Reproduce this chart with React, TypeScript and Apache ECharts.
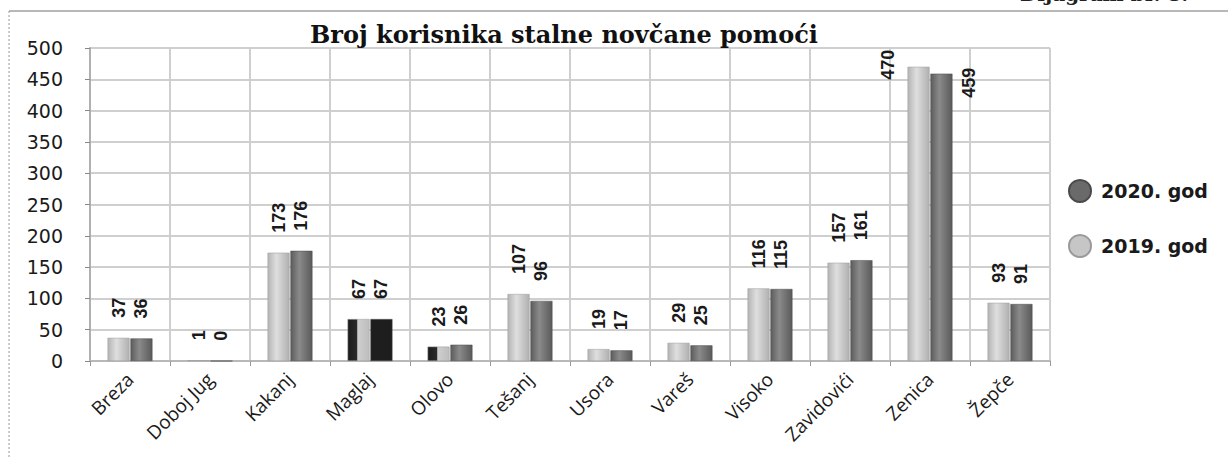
import React, { useEffect, useRef } from "react";
import * as echarts from "echarts";

const categories = ["Breza", "Doboj Jug", "Kakanj", "Maglaj", "Olovo", "Tešanj", "Usora", "Vareš", "Visoko", "Zavidovići", "Zenica", "Žepče"];
const values2019 = [37, 1, 173, 67, 23, 107, 19, 29, 116, 157, 470, 93];
const values2020 = [36, 0, 176, 67, 26, 96, 17, 25, 115, 161, 459, 91];
const seriesNames = ["2019. god", "2020. god"];
const yTicks = { min: 0, max: 500, interval: 50 };
const titleText = "Broj korisnika stalne novčane pomoći";

const lightGrad = () =>
  new echarts.graphic.LinearGradient(0, 0, 1, 0, [
    { offset: 0, color: "#b4b4b4" },
    { offset: 0.4, color: "#dedede" },
    { offset: 1, color: "#b0b0b0" },
  ]);
const darkGrad = () =>
  new echarts.graphic.LinearGradient(0, 0, 1, 0, [
    { offset: 0, color: "#5c5c5c" },
    { offset: 0.4, color: "#8a8a8a" },
    { offset: 1, color: "#5a5a5a" },
  ]);
const scanDarkLight = () =>
  new echarts.graphic.LinearGradient(0, 0, 1, 0, [
    { offset: 0, color: "#1c1c1c" },
    { offset: 0.42, color: "#2a2a2a" },
    { offset: 0.46, color: "#cfcfcf" },
    { offset: 1, color: "#bdbdbd" },
  ]);

export default function App() {
  const ref = useRef<HTMLDivElement>(null);
  useEffect(() => {
    if (!ref.current) return;
    const chart = echarts.init(ref.current, null, { renderer: "svg" });
    const labelBase = {
      show: true,
      position: "top",
      distance: 20,
      rotate: 90,
      align: "left",
      verticalAlign: "middle",
      fontFamily: "Liberation Sans",
      fontWeight: "bold",
      fontSize: 18,
      color: "#1a1a1a",
    };
    const d2019 = values2019.map((v, i) => {
      const item: any = { value: v };
      if (i === 10) item.label = { position: [-20, 13] };
      if (i === 3 || i === 4) item.itemStyle = { color: scanDarkLight() };
      return item;
    });
    const d2020 = values2020.map((v, i) => {
      const item: any = { value: v };
      if (i === 10) item.label = { position: [39, 24] };
      if (i === 3) item.itemStyle = { color: "#1e1e1e" };
      return item;
    });
    chart.setOption({
      animation: false,
      backgroundColor: "#ffffff",
      title: {
        text: titleText,
        left: 559,
        textAlign: "center",
        top: 17,
        textStyle: { fontFamily: "DejaVu Serif", fontWeight: "bold", fontSize: 24, color: "#111" },
      },
      graphic: [
        { type: "line", shape: { x1: 9, y1: 11, x2: 1228, y2: 11 }, style: { stroke: "#b8b8b8", lineWidth: 2 } },
        { type: "line", shape: { x1: 9, y1: 11, x2: 9, y2: 458 }, style: { stroke: "#9a9a9a", lineWidth: 1, lineDash: [2, 2] } },
        {
          type: "text",
          x: 1020,
          y: -16,
          style: { text: "Dijagram br. 8.", fontFamily: "DejaVu Serif", fontWeight: "bold", fontSize: 20, fill: "#222" },
        },
      ],
      legend: {
        orient: "vertical",
        left: 1063,
        top: 174,
        itemWidth: 32,
        itemHeight: 22,
        itemGap: 31,
        icon: "circle",
        symbolKeepAspect: false,
        textStyle: { fontFamily: "DejaVu Sans", fontWeight: "bold", fontSize: 19, color: "#1a1a1a" },
        data: [
          { name: seriesNames[1], itemStyle: { color: "#6a6a6a" } },
          { name: seriesNames[0], itemStyle: { color: "#c6c6c6" } },
        ],
      },
      grid: { left: 90, right: 178, top: 48, bottom: 97, containLabel: false },
      xAxis: {
        type: "category",
        data: categories,
        boundaryGap: true,
        axisLine: { show: true, lineStyle: { color: "#b8b8b8", width: 2 } },
        axisTick: { show: true, length: 5, lineStyle: { color: "#999" } },
        splitLine: { show: true, interval: 0, lineStyle: { color: "#cfcfcf", width: 2 } },
        axisLabel: {
          interval: 0,
          rotate: 45,
          margin: 15,
          fontFamily: "Open Sans",
          fontSize: 19,
          color: "#1a1a1a",
        },
      },
      yAxis: {
        type: "value",
        min: yTicks.min,
        max: yTicks.max,
        interval: yTicks.interval,
        axisLine: { show: true, lineStyle: { color: "#b0b0b0", width: 2 } },
        axisTick: { show: true, length: 5, lineStyle: { color: "#888" } },
        splitLine: { show: true, lineStyle: { color: "#cfcfcf", width: 2 } },
        axisLabel: { margin: 27, fontFamily: "DejaVu Sans", fontSize: 19, color: "#1a1a1a" },
      },
      series: [
        {
          name: seriesNames[0],
          type: "bar",
          data: d2019,
          barWidth: 22,
          barGap: "4%",
          itemStyle: { color: lightGrad(), borderColor: "#9a9a9a", borderWidth: 0.5 },
          label: labelBase,
        },
        {
          name: seriesNames[1],
          type: "bar",
          data: d2020,
          barWidth: 22,
          itemStyle: { color: darkGrad(), borderColor: "#4a4a4a", borderWidth: 0.5 },
          label: labelBase,
        },
      ],
    });
    return () => chart.dispose();
  }, []);
  return (
    <div
      ref={ref}
      style={{ position: "absolute", left: 0, top: 0, width: 1228, height: 458 }}
    />
  );
}
